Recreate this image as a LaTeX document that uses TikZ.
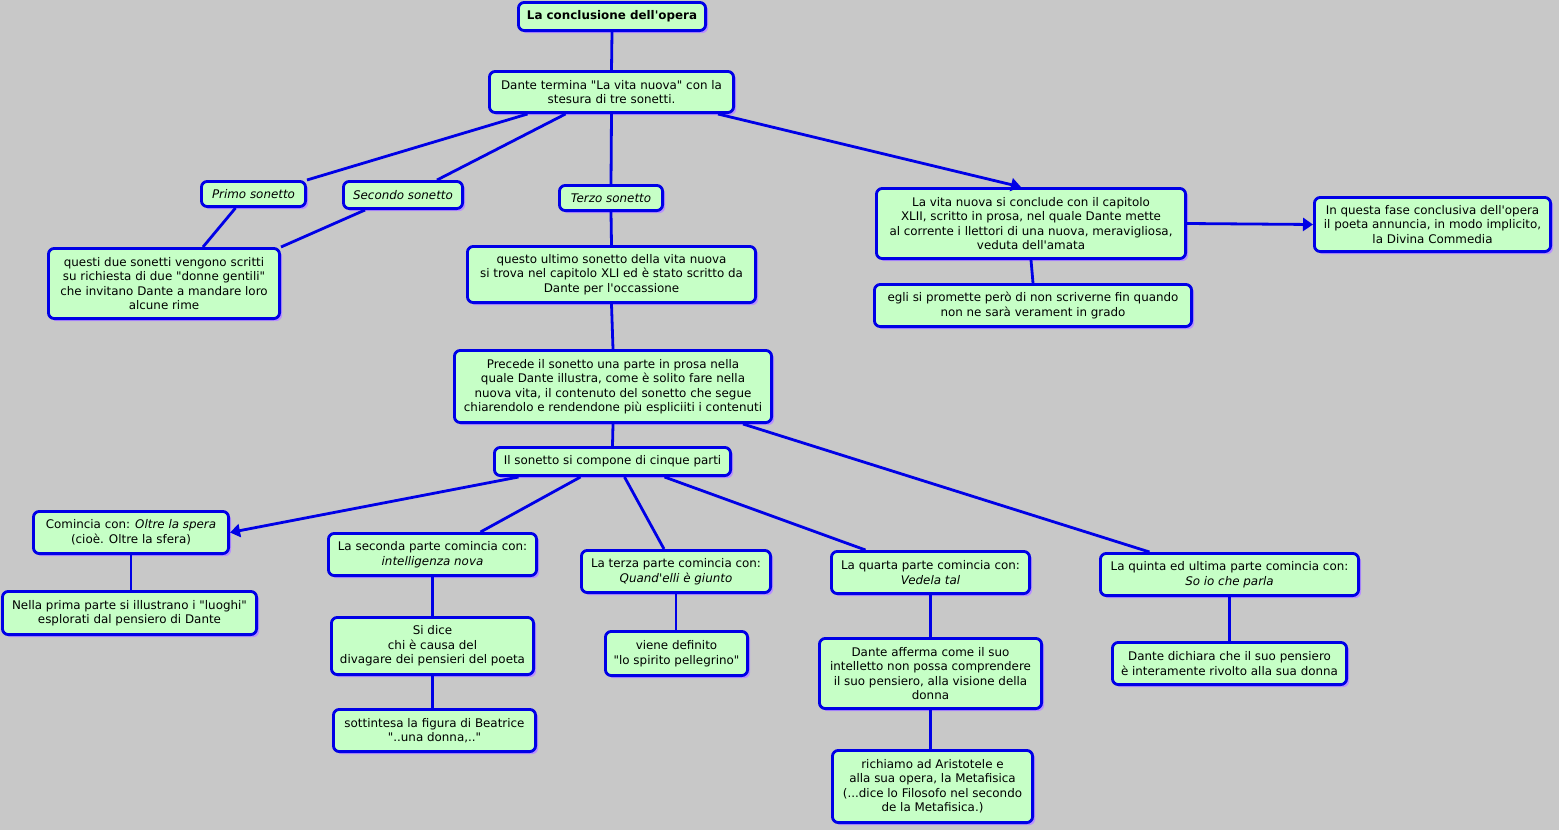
\documentclass[tikz,border=0pt]{standalone}
\usepackage{fontspec}
\newfontfamily\vf{DejaVu Sans}
\usetikzlibrary{shadows,arrows.meta,calc}
\definecolor{bgc}{RGB}{200,200,200}
\definecolor{fillc}{RGB}{198,255,198}
\definecolor{bordc}{RGB}{0,0,230}
\definecolor{shadc}{RGB}{185,145,255}
\tikzset{
  box/.style={draw=bordc, line width=2.8pt, fill=fillc, rounded corners=6pt, align=center,
    inner sep=1pt, font=\vf\fontsize{11.9}{14.5}\selectfont, text=black,
    drop shadow={shadow xshift=2.5pt, shadow yshift=-2.5pt, fill=shadc, opacity=1}},
  link/.style={draw=bordc, line width=2.8pt},
  arr/.style={link, -{Triangle[length=10pt,width=13pt]}},
  sz/.style 2 args={minimum width=#1pt-2.8pt, minimum height=#2pt-2.8pt}
}
\begin{document}
\begin{tikzpicture}[x=1pt,y=-1pt]
\fill[bgc] (0,0) rectangle (1559,830);
\useasboundingbox (0,0) rectangle (1559,830);

\node[box,sz={190}{31}] (title) at (612,16.5) {\bfseries La conclusione dell'opera};
\node[box,sz={247}{44}] (dante) at (611.5,92) {Dante termina "La vita nuova" con la\\stesura di tre sonetti.};
\node[box,sz={107}{28}] (primo) at (253.5,194) {\itshape Primo sonetto};
\node[box,sz={122}{30}] (secondo) at (403,195) {\itshape Secondo sonetto};
\node[box,sz={106}{28}] (terzo) at (611,198) {\itshape Terzo sonetto};
\node[box,sz={234}{73}] (questi) at (164,283.5) {questi due sonetti vengono scritti\\su richiesta di due "donne gentili"\\che invitano Dante a mandare loro\\alcune rime};
\node[box,sz={291}{59}] (questo) at (611.5,274.5) {questo ultimo sonetto della vita nuova\\si trova nel capitolo XLI ed è stato scritto da\\Dante per l'occassione};
\node[box,sz={312}{73}] (vitanuova) at (1031,223.5) {La vita nuova si conclude con il capitolo\\XLII, scritto in prosa, nel quale Dante mette\\al corrente i llettori di una nuova, meravigliosa,\\veduta dell'amata};
\node[box,sz={239}{57}] (inquesta) at (1432.5,224.5) {In questa fase conclusiva dell'opera\\il poeta annuncia, in modo implicito,\\la Divina Commedia};
\node[box,sz={320}{45}] (egli) at (1033,305.5) {egli si promette però di non scriverne fin quando\\non ne sarà verament in grado};
\node[box,sz={320}{75}] (precede) at (613,386.5) {Precede il sonetto una parte in prosa nella\\quale Dante illustra, come è solito fare nella\\nuova vita, il contenuto del sonetto che segue\\chiarendolo e rendendone più espliciiti i contenuti};
\node[box,sz={239}{31}] (cinque) at (612.5,461.5) {Il sonetto si compone di cinque parti};
\node[box,sz={198}{45}] (comincia) at (131,532.5) {Comincia con: \textit{Oltre la spera}\\(cioè. Oltre la sfera)};
\node[box,sz={211}{45}] (seconda) at (432.5,554.5) {La seconda parte comincia con:\\\textit{intelligenza nova}};
\node[box,sz={192}{45}] (terza) at (676,571.5) {La terza parte comincia con:\\\textit{Quand'elli è giunto}};
\node[box,sz={201}{45}] (quarta) at (930.5,572.5) {La quarta parte comincia con:\\\textit{Vedela tal}};
\node[box,sz={261}{45}] (quinta) at (1229.5,574.5) {La quinta ed ultima parte comincia con:\\\textit{So io che parla}};
\node[box,sz={257}{46}] (nella) at (129.5,613) {Nella prima parte si illustrano i "luoghi"\\esplorati dal pensiero di Dante};
\node[box,sz={205}{60}] (sidice) at (432.5,646) {Si dice\\chi è causa del\\divagare dei pensieri del poeta};
\node[box,sz={145}{47}] (viene) at (676.5,653.5) {viene definito\\"lo spirito pellegrino"};
\node[box,sz={225}{73}] (afferma) at (930.5,673.5) {Dante afferma come il suo\\intelletto non possa comprendere\\il suo pensiero, alla visione della\\donna};
\node[box,sz={237}{45}] (dichiara) at (1229.5,663.5) {Dante dichiara che il suo pensiero\\è interamente rivolto alla sua donna};
\node[box,sz={205}{45}] (sottintesa) at (434.5,730.5) {sottintesa la figura di Beatrice\\"..una donna,.."};
\node[box,sz={203}{75}] (richiamo) at (932.5,786.5) {richiamo ad Aristotele e\\alla sua opera, la Metafisica\\(...dice lo Filosofo nel secondo\\de la Metafisica.)};

\draw[link] (title.south) -- (dante.north);
\draw[link] ([xshift=-84pt]dante.south) -- (primo.north east);
\draw[link] ([xshift=-46pt]dante.south) -- ([xshift=34pt]secondo.north);
\draw[link] (dante.south) -- (terzo.north);
\draw[arr] ([xshift=-17pt]dante.south east) -- ([xshift=-10pt]vitanuova.north);
\draw[link] ([xshift=-18pt]primo.south) -- ([xshift=39pt]questi.north);
\draw[link] ([xshift=-38pt]secondo.south) -- (questi.north east);
\draw[link] (terzo.south) -- (questo.north);
\draw[link] (questo.south) -- (precede.north);
\draw[arr] (vitanuova.east) -- (inquesta.west);
\draw[link] (vitanuova.south) -- (egli.north);
\draw[link] (precede.south) -- (cinque.north);
\draw[link] ([xshift=-30pt]precede.south east) -- ([xshift=-80pt]quinta.north);
\draw[arr] ([xshift=-94pt]cinque.south) -- (comincia.east);
\draw[link] ([xshift=-32pt]cinque.south) -- ([xshift=48pt]seconda.north);
\draw[link] ([xshift=12pt]cinque.south) -- ([xshift=-12pt]terza.north);
\draw[link] ([xshift=52pt]cinque.south) -- ([xshift=-65pt]quarta.north);
\draw[link] (comincia.south) -- (nella.north -| comincia.south);
\draw[link] (seconda.south) -- (sidice.north -| seconda.south);
\draw[link] (sidice.south) -- (sottintesa.north -| sidice.south);
\draw[link] (terza.south) -- (viene.north -| terza.south);
\draw[link] (quarta.south) -- (afferma.north -| quarta.south);
\draw[link] (afferma.south) -- (richiamo.north -| afferma.south);
\draw[link] (quinta.south) -- (dichiara.north);
\end{tikzpicture}
\end{document}
